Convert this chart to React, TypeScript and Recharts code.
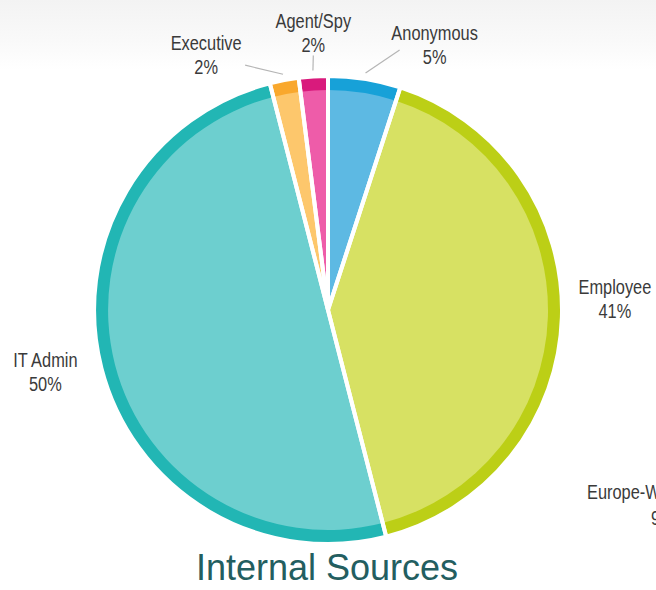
import React from 'react';
import { PieChart, Pie, Cell } from 'recharts';

// ── data ───────────────────────────────────────────────
const sources = ['Anonymous', 'Employee', 'IT Admin', 'Executive', 'Agent/Spy'];
const shares = [5, 41, 50, 2, 2];
const secondChartLabel = ['Europe-West', '9%'];
const title = 'Internal Sources';

// light fill + darker outer rim for each slice
const LIGHT = ['#5db9e3', '#d7e163', '#6dcfcf', '#fdc76c', '#ee5ca9'];
const DARK = ['#17a1d8', '#bccf16', '#22b6b4', '#f9a82d', '#d91a7c'];

// label placement relative to the slice's outer edge point (layout only)
const LABEL_LAYOUT = [
  { dx: 70, dy: -39, line: [35, -29] },
  { dx: 53, dy: -23, line: null },
  { dx: -56, dy: -1, line: null },
  { dx: -78, dy: -30, line: [-39, -15] },
  { dx: 0, dy: -48, line: [0, -21] },
];

const W = 656;
const H = 590;
const CX = 328;
const CY = 310;
const R = 234;
const RIM = 14;
const LABEL_FONT = "'Liberation Sans', Arial, sans-serif";
const SQUEEZE = 0.78; // condensed look of the original labels

const pieData = sources.map((name, i) => ({ name, value: shares[i] }));

const NarrowText = ({ x, y, children, anchor = 'middle' }: any) => (
  <text
    transform={`translate(${x},${y}) scale(${SQUEEZE},1)`}
    textAnchor={anchor}
    fill="#3a3a3a"
    fontSize={21}
    fontFamily={LABEL_FONT}
  >
    {children}
  </text>
);

const renderLabel = ({ cx, cy, midAngle, outerRadius, index }: any) => {
  const RADIAN = Math.PI / 180;
  const cos = Math.cos(-midAngle * RADIAN);
  const sin = Math.sin(-midAngle * RADIAN);
  const ex = cx + outerRadius * cos;
  const ey = cy + outerRadius * sin;
  const lay = LABEL_LAYOUT[index];
  const tx = ex + lay.dx;
  const ty = ey + lay.dy;
  return (
    <g key={`lbl-${index}`}>
      {lay.line && (
        <line
          x1={cx + (outerRadius + 6) * cos}
          y1={cy + (outerRadius + 6) * sin}
          x2={ex + lay.line[0]}
          y2={ey + lay.line[1]}
          stroke="#b5b5b5"
          strokeWidth={1.2}
        />
      )}
      <NarrowText x={tx} y={ty}>{sources[index]}</NarrowText>
      <NarrowText x={tx} y={ty + 24}>{`${shares[index]}%`}</NarrowText>
    </g>
  );
};

export default function App() {
  return (
    <div
      style={{
        position: 'absolute',
        left: 0,
        top: 0,
        width: W,
        height: H,
        overflow: 'hidden',
        background: 'linear-gradient(to bottom, #f3f3f3 0px, #f9f9f9 40px, #ffffff 70px)',
      }}
    >
      <PieChart width={W} height={H} margin={{ top: 0, right: 0, bottom: 0, left: 0 }}>
        {/* darker rim (full disc underneath) */}
        <Pie
          data={pieData}
          dataKey="value"
          cx={CX}
          cy={CY}
          outerRadius={R}
          startAngle={90}
          endAngle={-270}
          stroke="none"
          isAnimationActive={false}
        >
          {pieData.map((_, i) => (
            <Cell key={i} fill={DARK[i]} stroke="none" />
          ))}
        </Pie>
        {/* light body */}
        <Pie
          data={pieData}
          dataKey="value"
          cx={CX}
          cy={CY}
          outerRadius={R - RIM}
          startAngle={90}
          endAngle={-270}
          stroke="none"
          isAnimationActive={false}
        >
          {pieData.map((_, i) => (
            <Cell key={i} fill={LIGHT[i]} stroke="none" />
          ))}
        </Pie>
        {/* white separators + labels */}
        <Pie
          data={pieData}
          dataKey="value"
          cx={CX}
          cy={CY}
          outerRadius={R}
          startAngle={90}
          endAngle={-270}
          fill="none"
          stroke="#ffffff"
          strokeWidth={4}
          label={renderLabel}
          labelLine={false}
          isAnimationActive={false}
        >
          {pieData.map((_, i) => (
            <Cell key={i} fill="none" stroke="#ffffff" strokeWidth={4} />
          ))}
        </Pie>
      </PieChart>
      <svg width={W} height={H} style={{ position: 'absolute', left: 0, top: 0, pointerEvents: 'none' }}>
        <NarrowText x={587} y={499} anchor="start">{secondChartLabel[0]}</NarrowText>
        <NarrowText x={651} y={525} anchor="start">{secondChartLabel[1]}</NarrowText>
        <text
          x={327}
          y={580}
          textAnchor="middle"
          fill="#235e60"
          fontSize={36}
          fontFamily="'Liberation Sans', Arial, sans-serif"
        >
          {title}
        </text>
      </svg>
    </div>
  );
}
